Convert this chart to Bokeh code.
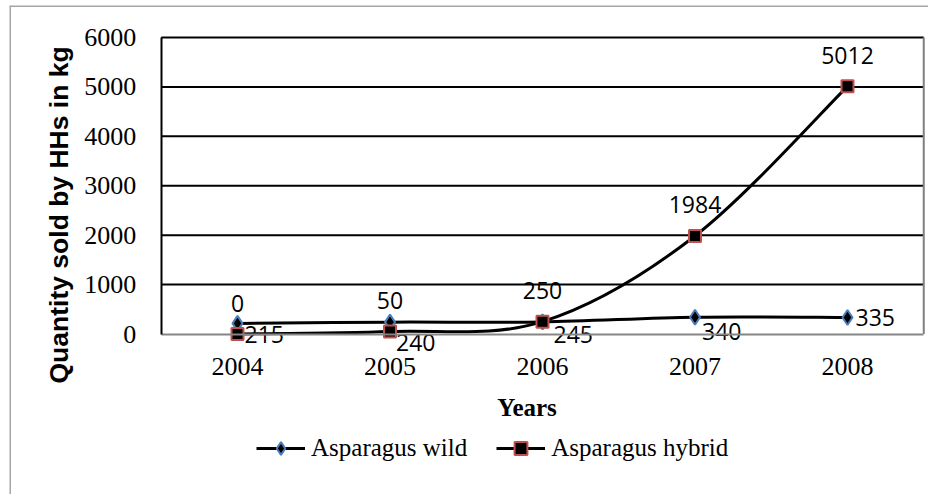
import math
from bokeh.plotting import figure
from bokeh.models import (Range1d, FixedTicker, ColumnDataSource, Legend, LegendItem,
                          Label, Span)
from bokeh.core.properties import value
from bokeh.embed import file_html
from bokeh.resources import INLINE

# ---- data ----
years = ["2004", "2005", "2006", "2007", "2008"]
wild = [215, 240, 245, 340, 335]
hybrid = [0, 50, 250, 1984, 5012]
y_ticks = [0, 1000, 2000, 3000, 4000, 5000, 6000]

# ---- label placement (screen pixel offsets, not data) ----
wild_label_dx = [7, 6, 11, 7, 8]
wild_label_dy = [11, 20, 13, 14, 0]
hybrid_label_dy = -31

# ---- layout (pixels) ----
CANVAS_W, CANVAS_H = 928, 494
BORDER_L, BORDER_T = 9, 5          # outer chart border position
CAT_W = 152.5                      # width of one category
FIRST_CAT_X = 237                  # pixel centre of first category
ZERO_Y = 333.5                     # pixel row of value 0
PX_PER_UNIT = (333.5 - 37) / 6000  # vertical scale

xs = list(range(len(years)))
Y_MIN, Y_MAX = 0, 6000
FRAME_W, FRAME_H = CANVAS_W - BORDER_L, CANVAS_H - BORDER_T
X_LO = (BORDER_L - FIRST_CAT_X) / CAT_W
X_HI = (CANVAS_W - FIRST_CAT_X) / CAT_W
Y_HI = (ZERO_Y - BORDER_T) / PX_PER_UNIT
Y_LO = -(CANVAS_H - ZERO_Y) / PX_PER_UNIT
CAT_LO, CAT_HI = -0.5, len(years) - 0.5


def smooth_segments(xv, yv):
    """Cubic Bezier segments (Excel-like smoothing) between consecutive points."""
    n = len(xv)
    d = dict(x0=[], y0=[], x1=[], y1=[], cx0=[], cy0=[], cx1=[], cy1=[])
    for i in range(n - 1):
        a = max(i - 1, 0)
        b = min(i + 2, n - 1)
        d["x0"].append(xv[i]); d["y0"].append(yv[i])
        d["x1"].append(xv[i + 1]); d["y1"].append(yv[i + 1])
        d["cx0"].append(xv[i] + (xv[i + 1] - xv[a]) / 6)
        d["cy0"].append(yv[i] + (yv[i + 1] - yv[a]) / 6)
        d["cx1"].append(xv[i + 1] - (xv[b] - xv[i]) / 6)
        d["cy1"].append(yv[i + 1] - (yv[b] - yv[i]) / 6)
    return ColumnDataSource(d)


p = figure(frame_width=FRAME_W, frame_height=FRAME_H,
           x_range=Range1d(X_LO, X_HI), y_range=Range1d(Y_LO, Y_HI),
           output_backend="svg", toolbar_location=None,
           min_border_left=BORDER_L, min_border_right=0,
           min_border_top=BORDER_T, min_border_bottom=0)
p.background_fill_color = "white"
p.border_fill_color = "white"
p.outline_line_color = None
p.xgrid.grid_line_color = None
p.ygrid.grid_line_color = None

# outer chart border (left and top edges)
p.add_layout(Span(location=X_LO, dimension="height", line_color="#a6a6a6", line_width=3))
p.add_layout(Span(location=Y_HI, dimension="width", line_color="#a6a6a6", line_width=3))

# horizontal gridlines, limited to the plot area
grid_y = y_ticks[1:]
p.segment(x0=[CAT_LO] * len(grid_y), x1=[CAT_HI] * len(grid_y), y0=grid_y, y1=grid_y,
          line_color="black", line_width=2)
# right edge of the plot area
p.segment(x0=[CAT_HI], x1=[CAT_HI], y0=[Y_MIN], y1=[Y_MAX],
          line_color="#7f7f7f", line_width=2)

# category axis on the zero line
p.xaxis.fixed_location = Y_MIN
p.xaxis.bounds = (CAT_LO, CAT_HI)
p.xaxis.ticker = FixedTicker(ticks=xs)
p.xaxis.major_label_overrides = {i: y for i, y in enumerate(years)}
p.xaxis.major_tick_line_color = None
p.xaxis.minor_tick_line_color = None
p.xaxis.axis_line_color = "#868686"
p.xaxis.axis_line_width = 2
p.xaxis.major_label_text_font = "Liberation Serif"
p.xaxis.major_label_text_font_size = "26px"
p.xaxis.major_label_text_color = "black"
p.xaxis.major_label_standoff = 18

# value axis on the left edge of the plot area
p.yaxis.fixed_location = CAT_LO
p.yaxis.bounds = (Y_MIN, Y_MAX)
p.yaxis.ticker = FixedTicker(ticks=y_ticks)
p.yaxis.major_tick_line_color = None
p.yaxis.minor_tick_line_color = None
p.yaxis.axis_line_color = "black"
p.yaxis.axis_line_width = 2
p.yaxis.major_label_text_font = "Liberation Serif"
p.yaxis.major_label_text_font_size = "26px"
p.yaxis.major_label_text_color = "black"
p.yaxis.major_label_text_align = "right"
p.yaxis.major_label_standoff = 19

# axis titles
yt = Label(x=49, y=111, x_units="screen", y_units="screen", angle=math.pi / 2,
           text="Quantity sold by HHs in kg", text_font="Liberation Sans",
           text_font_size="26.5px", text_font_style="bold", text_color="black",
           text_align="left", text_baseline="alphabetic")
p.add_layout(yt)
xt = Label(x=517.5, y=87, x_units="screen", y_units="screen", text="Years",
           text_font="Liberation Serif", text_font_size="25px", text_font_style="bold",
           text_color="black", text_align="center", text_baseline="alphabetic")
p.add_layout(xt)

# series
wild_src = ColumnDataSource(dict(x=xs, y=wild, lab=[str(v) for v in wild],
                                 dx=wild_label_dx, dy=wild_label_dy))
hyb_src = ColumnDataSource(dict(x=xs, y=hybrid, lab=[str(v) for v in hybrid]))

wl = p.bezier(x0="x0", y0="y0", x1="x1", y1="y1", cx0="cx0", cy0="cy0",
              cx1="cx1", cy1="cy1", source=smooth_segments(xs, wild),
              line_color="black", line_width=3)
wm = p.scatter(x="x", y="y", source=wild_src, marker="diamond", size=15,
               fill_color="black", line_color="#4A7EBB", line_width=2)
hl = p.bezier(x0="x0", y0="y0", x1="x1", y1="y1", cx0="cx0", cy0="cy0",
              cx1="cx1", cy1="cy1", source=smooth_segments(xs, hybrid),
              line_color="black", line_width=3)
hm = p.scatter(x="x", y="y", source=hyb_src, marker="square", size=12,
               fill_color="black", line_color="#C0504D", line_width=2)

# data labels
p.text(x="x", y="y", text="lab", source=wild_src, x_offset="dx", y_offset="dy",
       text_font=value("Open Sans"), text_font_size=value("23px"),
       text_align="left", text_baseline="middle", text_color="black")
p.text(x="x", y="y", text="lab", source=hyb_src, y_offset=hybrid_label_dy,
       text_font=value("Open Sans"), text_font_size=value("23px"),
       text_align="center", text_baseline="middle", text_color="black")

legend = Legend(items=[LegendItem(label="Asparagus wild", renderers=[wl, wm]),
                       LegendItem(label="Asparagus hybrid", renderers=[hl, hm])],
                orientation="horizontal", location=(247, 30),
                padding=0, margin=0, spacing=29, label_standoff=6,
                glyph_width=49, glyph_height=32, label_height=32,
                border_line_color=None, background_fill_alpha=0,
                label_text_font="Liberation Serif", label_text_font_size="25px",
                label_text_color="black")
p.add_layout(legend, "center")

open("out.html", "w").write(file_html(p, INLINE))
